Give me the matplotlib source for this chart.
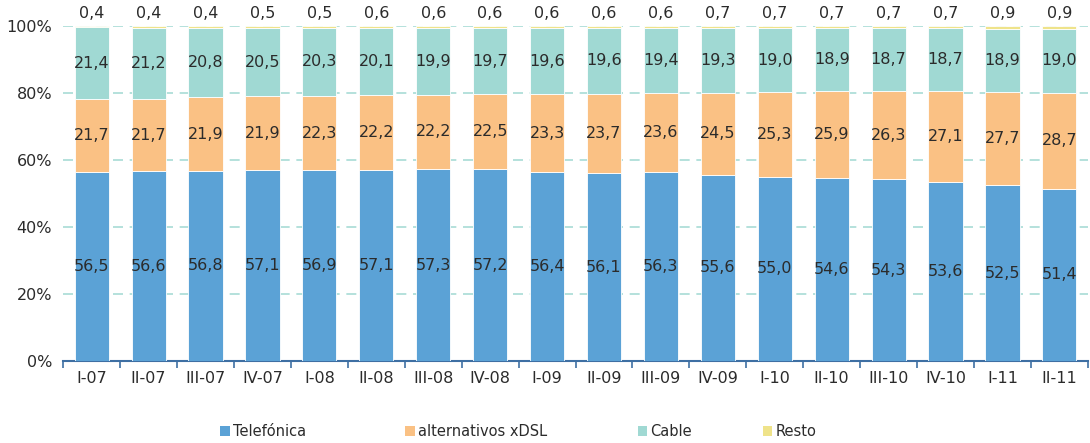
import matplotlib.pyplot as plt
from matplotlib.patches import Patch
import numpy as np

quarters = ['I-07', 'II-07', 'III-07', 'IV-07', 'I-08', 'II-08', 'III-08', 'IV-08',
            'I-09', 'II-09', 'III-09', 'IV-09', 'I-10', 'II-10', 'III-10', 'IV-10',
            'I-11', 'II-11']
telefonica = [56.5, 56.6, 56.8, 57.1, 56.9, 57.1, 57.3, 57.2, 56.4, 56.1, 56.3, 55.6,
              55.0, 54.6, 54.3, 53.6, 52.5, 51.4]
xdsl = [21.7, 21.7, 21.9, 21.9, 22.3, 22.2, 22.2, 22.5, 23.3, 23.7, 23.6, 24.5,
        25.3, 25.9, 26.3, 27.1, 27.7, 28.7]
cable = [21.4, 21.2, 20.8, 20.5, 20.3, 20.1, 19.9, 19.7, 19.6, 19.6, 19.4, 19.3,
         19.0, 18.9, 18.7, 18.7, 18.9, 19.0]
resto = [0.4, 0.4, 0.4, 0.5, 0.5, 0.6, 0.6, 0.6, 0.6, 0.6, 0.6, 0.7,
         0.7, 0.7, 0.7, 0.7, 0.9, 0.9]

names = ['Telefónica', 'alternativos xDSL', 'Cable', 'Resto']
colors = ['#5BA2D6', '#FAC184', '#A0D9D3', '#EFE38A']
txt = '#2b2b2b'

fig = plt.figure(figsize=(10.9, 4.43), dpi=100)
ax = fig.add_axes([0.058, 0.185, 0.94, 0.756])

x = np.arange(len(quarters))
series = [telefonica, xdsl, cable, resto]
bottom = np.zeros(len(quarters))
for i, (vals, c) in enumerate(zip(series, colors)):
    vals = np.array(vals)
    ax.bar(x, vals, 0.6, bottom=bottom, color=c, edgecolor='white', linewidth=0.6, zorder=3)
    for xi, b, v in zip(x, bottom, vals):
        label = f'{v:.1f}'.replace('.', ',')
        if i < 3:
            ax.text(xi, b + v / 2, label, ha='center', va='center', fontsize=11.5, color=txt, zorder=4)
        else:
            # resto is too thin, label goes above the bar
            ax.text(xi, 100 + 1.5, label, ha='center', va='bottom', fontsize=11.5, color=txt, zorder=4)
    bottom += vals

ax.set_xlim(-0.5, len(quarters) - 0.5)
ax.set_ylim(0, 100)
ax.set_yticks([0, 20, 40, 60, 80, 100])
ax.set_yticklabels(['0%', '20%', '40%', '60%', '80%', '100%'], fontsize=11.5, color=txt)
ax.yaxis.grid(True, linestyle=(0, (6, 4)), color='#A8DCD6', linewidth=1.2, zorder=0)
ax.tick_params(axis='y', length=0, pad=8)

ax.set_xticks(x)
ax.set_xticklabels(quarters, fontsize=11.5, color=txt)
ax.set_xticks(np.arange(-0.5, len(quarters)), minor=True)
ax.tick_params(axis='x', which='major', length=0, pad=7)
ax.tick_params(axis='x', which='minor', length=5, width=1.2, color='#3E6FA3', direction='out')

for s in ['top', 'right', 'left']:
    ax.spines[s].set_visible(False)
ax.spines['bottom'].set_color('#3E6FA3')
ax.spines['bottom'].set_linewidth(1.5)

# legend entries spread like the original
leg_x = [0.202, 0.372, 0.585, 0.700]
for name, c, lx in zip(names, colors, leg_x):
    fig.legend(handles=[Patch(facecolor=c)], labels=[name], loc='center left',
               bbox_to_anchor=(lx, 0.025), frameon=False, fontsize=10.5,
               handlelength=0.65, handleheight=0.65, handletextpad=0.2, borderaxespad=0,
               borderpad=0, labelcolor=txt)

fig.savefig('out.png', dpi=100)
